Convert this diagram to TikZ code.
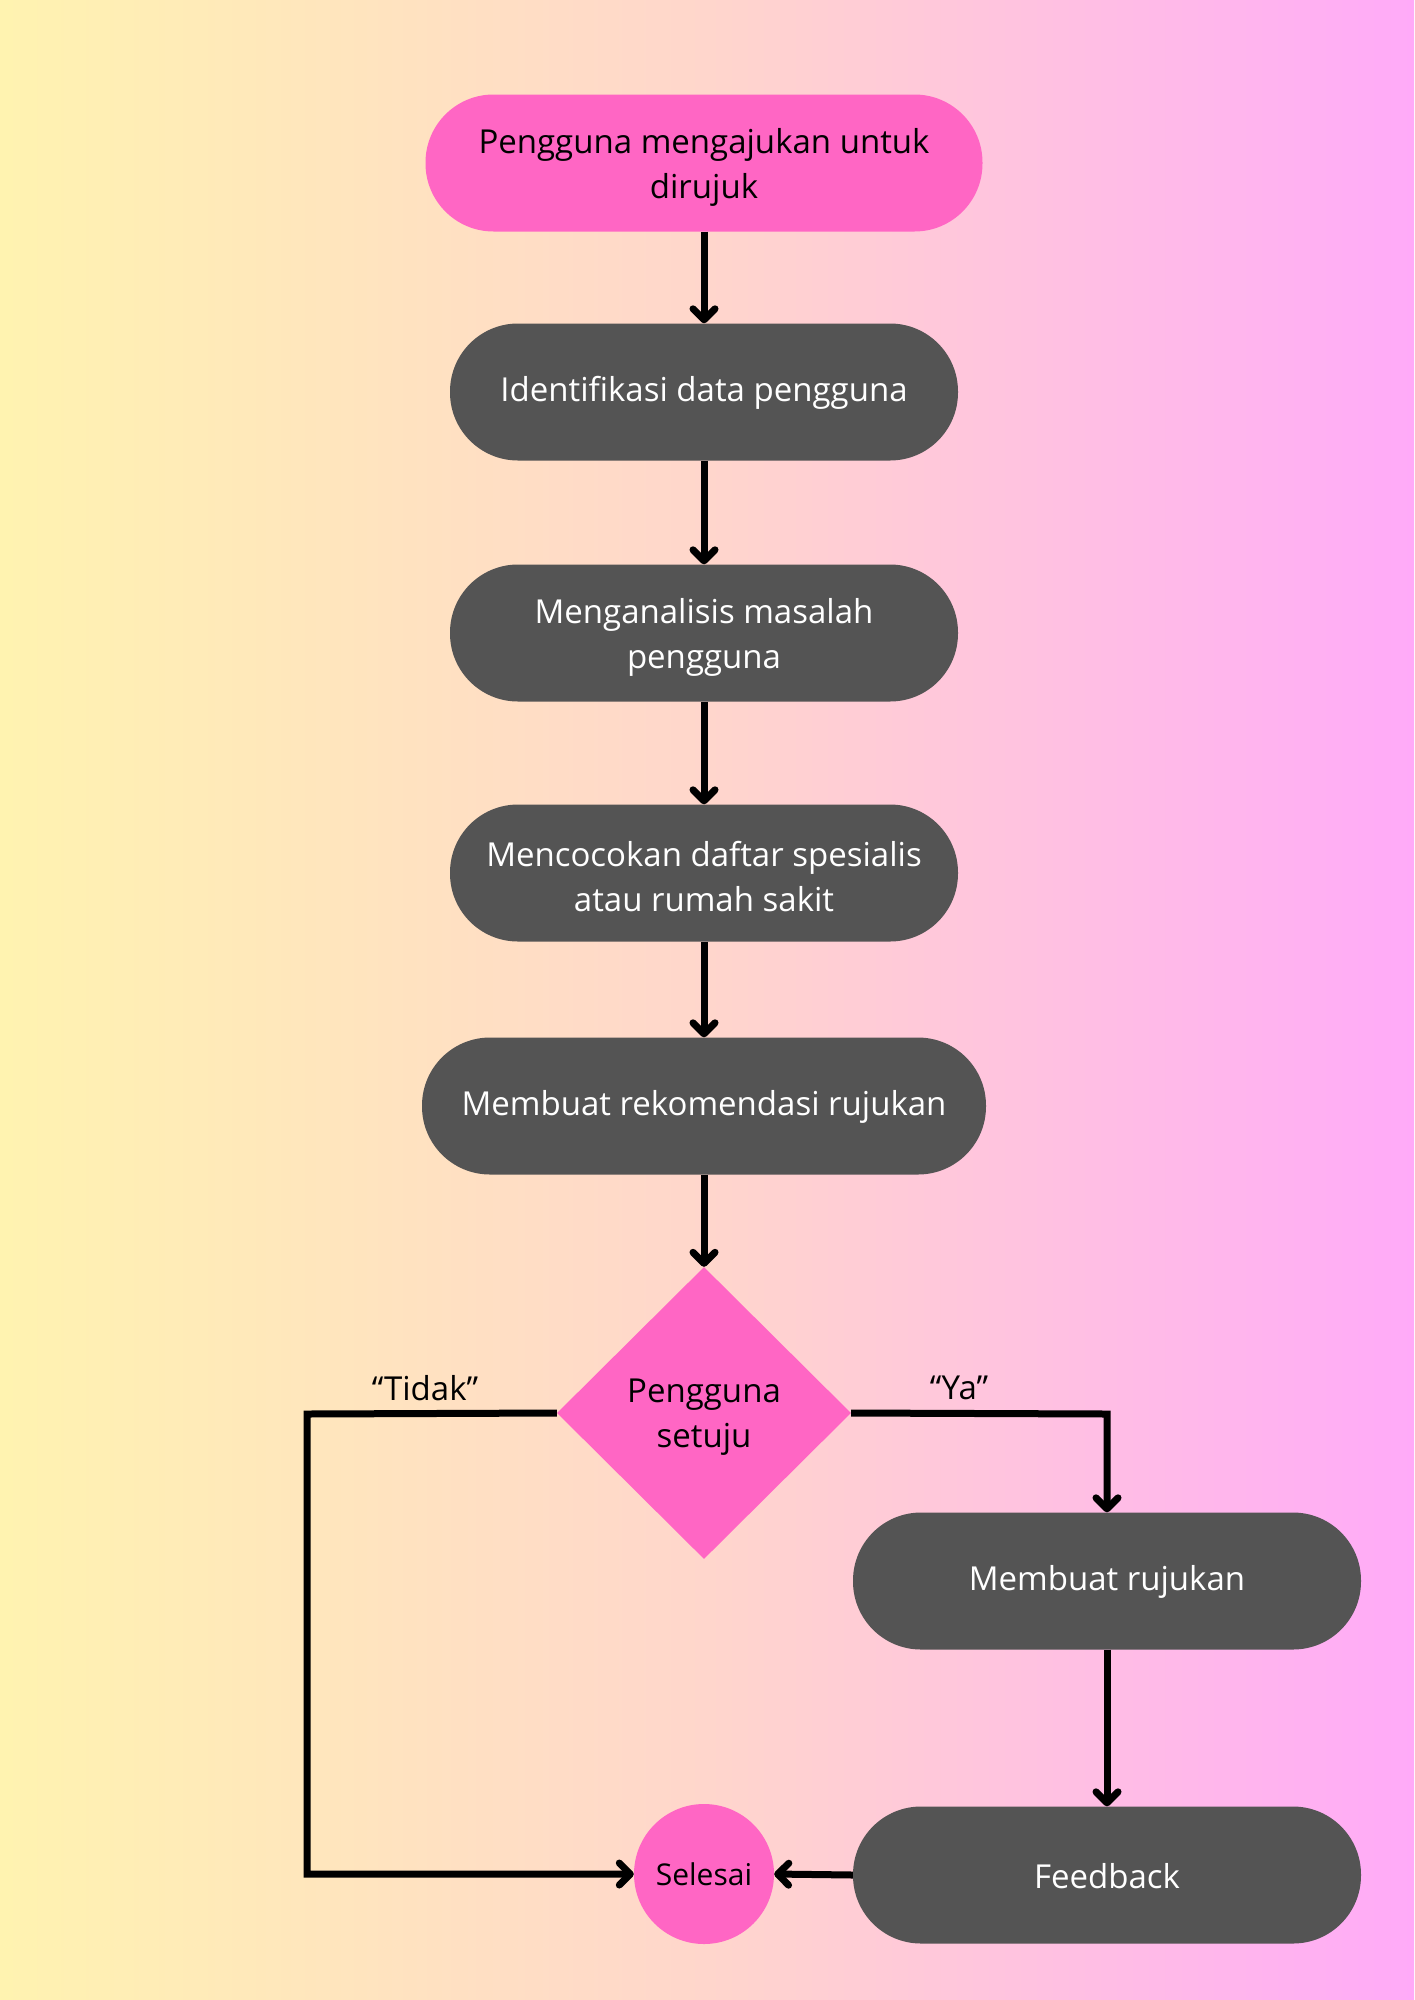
\documentclass[tikz,border=0pt]{standalone}
\usepackage{fontspec}
\setmainfont{Open Sans}
\usetikzlibrary{arrows.meta,shapes.geometric}
\definecolor{darkbox}{HTML}{545454}
\definecolor{pinkbox}{HTML}{FF66C4}
\definecolor{bgleft}{HTML}{FFF3B0}
\definecolor{bgmid}{HTML}{FFD6CC}
\definecolor{bgright}{HTML}{FFAAF8}
\begin{document}
\begin{tikzpicture}[x=1pt,y=-1pt,
  txt/.style={font=\fontsize{33}{45}\selectfont, align=center},
  pill/.style={rectangle, rounded corners=68pt, minimum height=137pt, inner sep=0pt},
  darkpill/.style={pill, fill=darkbox},
  pinkpill/.style={pill, fill=pinkbox},
  wlab/.style={txt, text=white, yshift=-4pt},
  wlabone/.style={txt, text=white, yshift=-1pt},
  blab/.style={txt, text=black, yshift=-4pt},
  conn/.style={line width=7pt, -{Straight Barb[length=11pt,width=22pt,line width=7pt,line cap=round,line join=round]}}
]
\shade[left color=bgleft, right color=bgright, middle color=bgmid] (0,0) rectangle (1414,2000);
\useasboundingbox (0,0) rectangle (1414,2000);

\node[pinkpill, minimum width=557pt, label={[blab]center:{Pengguna mengajukan untuk\\dirujuk}}] (n1) at (704,163) {};
\node[darkpill, minimum width=508pt, label={[wlabone]center:{Identifikasi data pengguna}}] (n2) at (704,392) {};
\node[darkpill, minimum width=508pt, label={[wlab]center:{Menganalisis masalah\\pengguna}}] (n3) at (704,633) {};
\node[darkpill, minimum width=508pt, label={[wlab]center:{Mencocokan daftar spesialis\\atau rumah sakit}}] (n4) at (704,873) {};
\node[darkpill, minimum width=564pt, label={[wlabone]center:{Membuat rekomendasi rujukan}}] (n5) at (704,1106) {};
\node[diamond, fill=pinkbox, minimum width=294pt, minimum height=292pt, inner sep=0pt, aspect=1, label={[blab]center:{Pengguna\\setuju}}] (d) at (704,1413) {};
\node[darkpill, minimum width=508pt, label={[wlabone]center:{Membuat rujukan}}] (n6) at (1107,1581) {};
\node[darkpill, minimum width=508pt, label={[wlabone]center:{Feedback}}] (n7) at (1107,1875) {};
\node[circle, fill=pinkbox, minimum size=140pt, inner sep=0pt, font=\fontsize{30}{36}\selectfont] (end) at (704,1874) {Selesai};

\node[txt] (lt) at (425,1388) {“Tidak”};
\node[txt] (ly) at (959,1388) {“Ya”};

\coordinate (cl1) at (307,1414);
\coordinate (cl2) at (307,1874);
\coordinate (cr1) at (1107,1414);

\draw[conn] (n1.south) -- (n2.north);
\draw[conn] (n2.south) -- (n3.north);
\draw[conn] (n3.south) -- (n4.north);
\draw[conn] (n4.south) -- (n5.north);
\draw[conn] (n5.south) -- (d.north);
\draw[conn] (d.west) -- (cl1) -- (cl2) -- (end.west);
\draw[conn] (d.east) -- (cr1) -- (n6.north);
\draw[conn] (n6.south) -- (n7.north);
\draw[conn] (n7.west) -- (end.east);
\end{tikzpicture}
\end{document}
